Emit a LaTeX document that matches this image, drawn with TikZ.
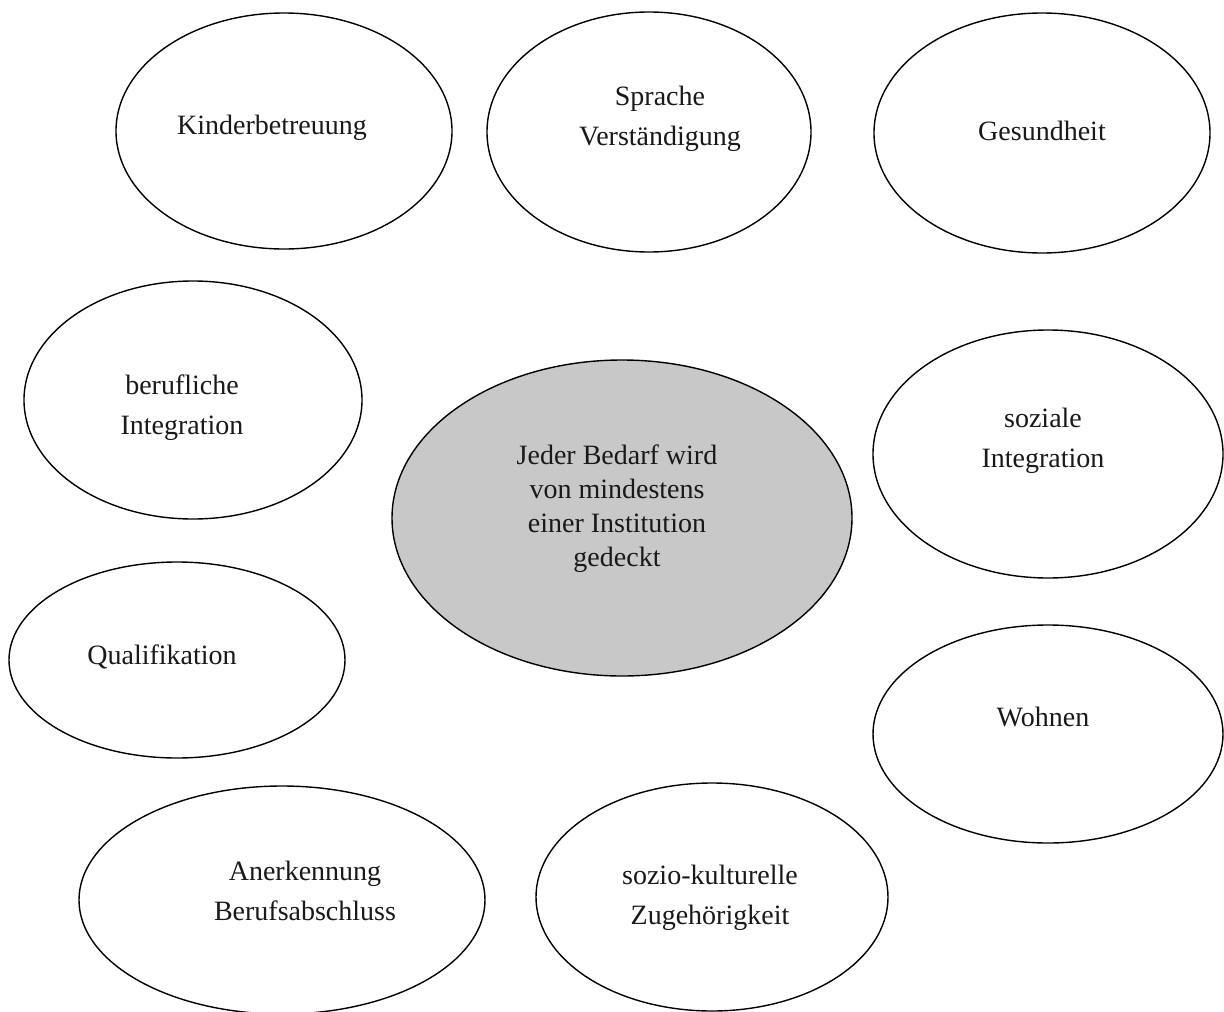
\documentclass[tikz,border=0pt]{standalone}
\usepackage{fontspec}
\setmainfont{Liberation Serif}
\usetikzlibrary{shapes.geometric}
\definecolor{centergray}{RGB}{200,200,200}
\begin{document}
\begin{tikzpicture}[x=1pt,y=-1pt,
  bubble/.style={draw=black,line width=1.4pt,ellipse,inner sep=0pt,fill=white},
  lbl/.style={font=\fontsize{28}{40}\selectfont,align=center,inner sep=0pt,text=black!90},
  lblc/.style={font=\fontsize{28}{34}\selectfont,align=center,inner sep=0pt,text=black!90}]
\useasboundingbox (0,0) rectangle (1224,1012);
\fill[white] (0,0) rectangle (1224,1012);
% ellipses
\node[bubble,minimum width=336pt,minimum height=236pt] (kb) at (284,131) {};
\node[bubble,minimum width=324pt,minimum height=240pt] (sp) at (649,132) {};
\node[bubble,minimum width=336pt,minimum height=240pt] (ge) at (1042,133) {};
\node[bubble,minimum width=338pt,minimum height=238pt] (bi) at (193,400) {};
\node[bubble,fill=centergray,minimum width=460pt,minimum height=316pt] (ce) at (622,518) {};
\node[bubble,minimum width=350pt,minimum height=248pt] (si) at (1048,454) {};
\node[bubble,minimum width=336pt,minimum height=196pt] (qu) at (177,660) {};
\node[bubble,minimum width=350pt,minimum height=218pt] (wo) at (1048,734) {};
\node[bubble,minimum width=406pt,minimum height=228pt] (an) at (282,900) {};
\node[bubble,minimum width=352pt,minimum height=228pt] (sk) at (712,897) {};
% labels
\node[lbl] (tkb) at (272,128) {Kinderbetreuung};
\node[lbl] (tsp) at (660,119) {Sprache\\Verständigung};
\node[lbl] (tge) at (1042,131) {Gesundheit};
\node[lbl] (tbi) at (182,408) {berufliche\\Integration};
\node[lblc] (tce) at (617,509) {Jeder Bedarf wird\\von mindestens\\einer Institution\\gedeckt};
\node[lbl] (tsi) at (1043,441) {soziale\\Integration};
\node[lbl] (tqu) at (162,657) {Qualifikation};
\node[lbl] (two) at (1043,717) {Wohnen};
\node[lbl] (tan) at (305,891) {Anerkennung\\Berufsabschluss};
\node[lbl] (tsk) at (710,898) {sozio-kulturelle\\Zugehörigkeit};
\end{tikzpicture}
\end{document}
